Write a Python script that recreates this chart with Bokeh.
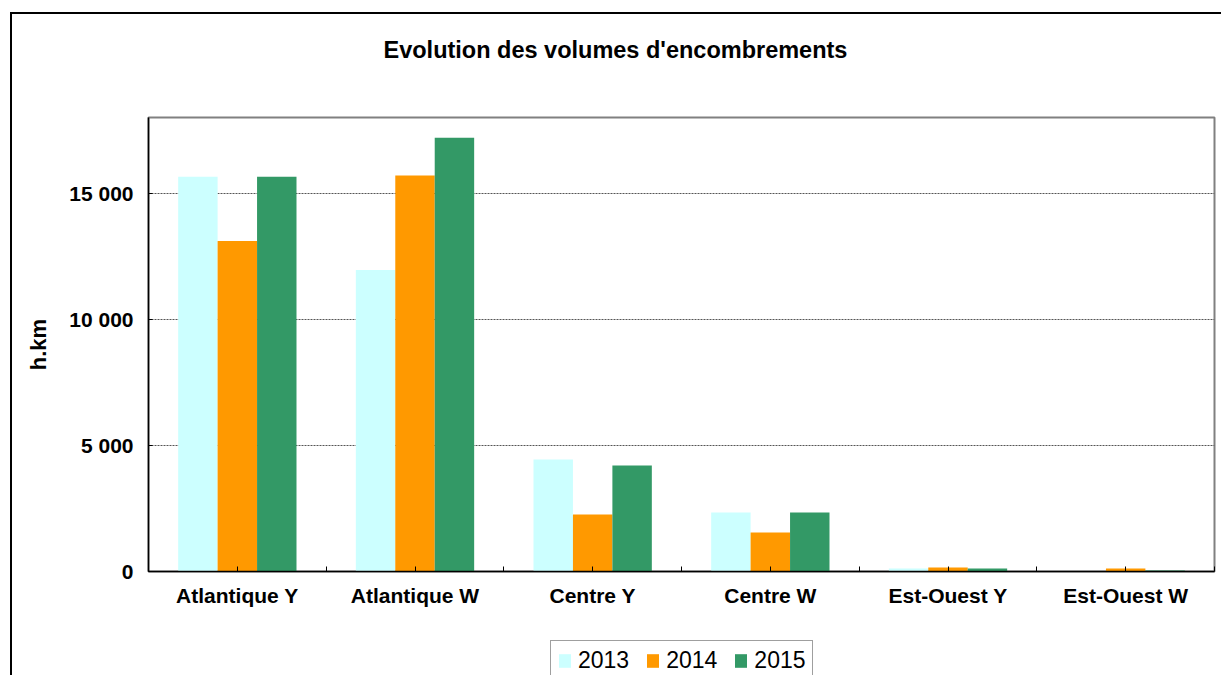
import numpy as np
from bokeh.plotting import figure
from bokeh.layouts import column
from bokeh.models import (Range1d, FixedTicker, Label, Legend, LegendItem,
                          ColumnDataSource)
from bokeh.embed import file_html
from bokeh.resources import INLINE

# ---- data ----
categories = ["Atlantique Y", "Atlantique W", "Centre Y", "Centre W", "Est-Ouest Y", "Est-Ouest W"]
years = ["2013", "2014", "2015"]
v2013 = [15650, 11950, 4440, 2340, 120, 0]
v2014 = [13100, 15700, 2260, 1550, 160, 120]
v2015 = [15650, 17200, 4200, 2340, 120, 40]
colors = ["#CCFFFF", "#FF9900", "#339966"]
y_ticks = [0, 5000, 10000, 15000]
y_tick_labels = ["0", "5 000", "10 000", "15 000"]
y_max = 18000
title_text = "Evolution des volumes d'encombrements"
y_label = "h.km"

FONT = "Liberation Sans"
n = len(categories)


def strip(h):
    f = figure(width=1221, height=h, title=None,
               x_range=Range1d(0, 1), y_range=Range1d(0, 1),
               x_axis_type=None, y_axis_type=None,
               output_backend="svg", toolbar_location=None,
               min_border=0, min_border_left=0, min_border_right=0,
               min_border_top=0, min_border_bottom=0)
    f.background_fill_color = None
    f.border_fill_color = None
    f.outline_line_color = None
    f.xgrid.visible = False
    f.ygrid.visible = False
    return f


# ---- title strip ----
ts = strip(70)
ts.add_layout(Label(x=235, y=21, x_units="screen", y_units="screen",
                    text=title_text, text_font=FONT, text_font_style="bold",
                    text_font_size="23.5px", text_color="black",
                    text_baseline="alphabetic", text_align="left"))

# ---- main chart ----
p = figure(width=1221, height=570, title=None,
           x_range=Range1d(0, n), y_range=Range1d(0, y_max),
           output_backend="svg", toolbar_location=None,
           min_border_left=148, min_border_right=7,
           min_border_top=47, min_border_bottom=69)
p.background_fill_color = "white"
p.border_fill_color = None
p.outline_line_color = "#808080"
p.outline_line_width = 2

x_centers = np.arange(n) + 0.5
bar_w = 0.222
for i, (vals, yr, c) in enumerate(zip([v2013, v2014, v2015], years, colors)):
    src = ColumnDataSource(dict(x=x_centers + (i - 1) * bar_w, top=vals))
    p.vbar(x="x", top="top", bottom=0, width=bar_w, source=src,
           fill_color=c, line_color=None)

# x axis
xa = p.xaxis[0]
xa.ticker = FixedTicker(ticks=[float(v) for v in x_centers], minor_ticks=list(range(n + 1)))
xa.major_label_overrides = {float(v): c for v, c in zip(x_centers, categories)}
xa.major_tick_in = 5
xa.major_tick_out = 0
xa.minor_tick_in = 5
xa.minor_tick_out = 0
xa.major_tick_line_color = "black"
xa.minor_tick_line_color = "black"
xa.axis_line_color = "black"
xa.axis_line_width = 1.5
xa.major_label_text_font = FONT
xa.major_label_text_font_style = "bold"
xa.major_label_text_font_size = "21px"
xa.major_label_text_color = "black"
xa.major_label_standoff = 12

# y axis
ya = p.yaxis[0]
ya.ticker = FixedTicker(ticks=y_ticks, minor_ticks=[])
ya.major_label_overrides = {t: l for t, l in zip(y_ticks, y_tick_labels)}
ya.major_tick_in = 4
ya.major_tick_out = 0
ya.major_tick_line_color = "black"
ya.axis_line_color = "black"
ya.axis_line_width = 1.5
ya.major_label_text_font = FONT
ya.major_label_text_font_style = "bold"
ya.major_label_text_font_size = "21px"
ya.major_label_text_color = "black"
ya.major_label_standoff = 15
ya.axis_label = y_label
ya.axis_label_text_font = FONT
ya.axis_label_text_font_style = "bold"
ya.axis_label_text_font_size = "22px"
ya.axis_label_text_color = "black"
ya.axis_label_standoff = 15

p.xgrid.visible = False
p.ygrid.grid_line_color = "#555555"
p.ygrid.grid_line_dash = "2 1"
p.ygrid.grid_line_width = 1

# ---- legend strip below the chart ----
lg = strip(35)
items = []
for yr, c in zip(years, colors):
    # legend proxy (no visible mark): one NaN row so the legend swatch is drawn
    r = lg.vbar(x=np.array([np.nan]), top=np.array([np.nan]), bottom=0, width=1,
                fill_color=c, line_color=None)
    items.append(LegendItem(label=yr, renderers=[r]))
legend = Legend(items=items, orientation="horizontal", location=(402, -6),
                margin=0, padding=6, spacing=16, label_standoff=6,
                glyph_width=15, glyph_height=17, label_height=26,
                label_text_font=FONT, label_text_font_size="23px",
                label_text_color="black",
                border_line_color="#404040", border_line_width=1.5,
                background_fill_color="white", background_fill_alpha=1)
lg.add_layout(legend)

layout = column(ts, p, lg, spacing=0)
# outer chart border (left and top edges visible in the window)
layout.styles = {"box-shadow": "inset 10px 12px 0 0 white, inset 12px 14px 0 0 black",
                 "background-color": "white"}

open("out.html", "w").write(file_html(layout, INLINE))
